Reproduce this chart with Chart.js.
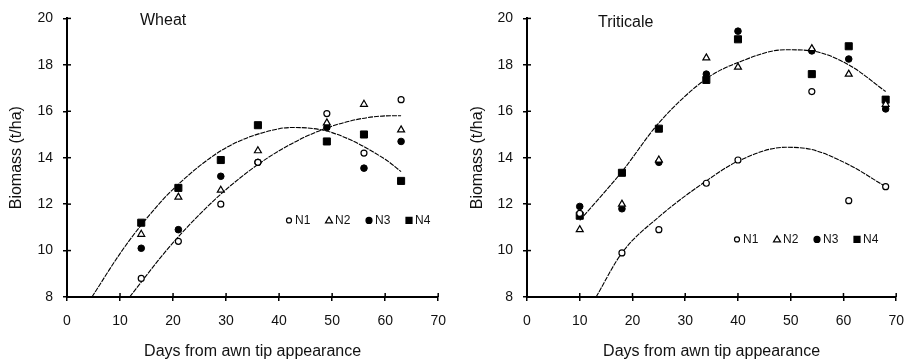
<!DOCTYPE html>
<html>
<head>
<meta charset="utf-8">
<script src="https://cdn.jsdelivr.net/npm/chart.js@4.4.0/dist/chart.umd.min.js"></script>
<style>
  body { margin: 0; background: #fff; }
  .panel { position: absolute; top: 0; width: 458px; height: 364px; }
  .ptitle { position: absolute; font: 16px "Liberation Sans", Arial, sans-serif; color: #111; line-height: 18px; }
</style>
</head>
<body>
<div class="panel" style="left:0"><canvas id="wheat"></canvas></div>
<div class="panel" style="left:458px"><canvas id="triticale"></canvas></div>
<div class="ptitle" style="left:140px; top:11px">Wheat</div>
<div class="ptitle" style="left:598px; top:13px">Triticale</div>
<script>
// Wheat - biomass (t/ha) by days from awn tip appearance
const wheatDays = [14, 21, 29, 36, 49, 56, 63];
const wheatN1 = [8.8, 10.4, 12.0, 13.8, 15.9, 14.2, 16.5];
const wheatN2 = [10.7, 12.3, 12.6, 14.3, 15.5, 16.3, 15.2];
const wheatN3 = [10.1, 10.9, 13.2, 13.8, 15.3, 13.55, 14.7];
const wheatN4 = [11.2, 12.7, 13.9, 15.4, 14.7, 15.0, 13.0];

// fitted curves
const wheatFitAX = [4.7, 10, 14, 20, 30, 40, 43, 50, 60, 63];
const wheatFitAY = [8.0, 9.87, 11.1, 12.64, 14.43, 15.25, 15.3, 15.08, 13.93, 13.4];
const wheatFitBX = [11.8, 20, 30, 40, 50, 60, 63];
const wheatFitBY = [8.0, 10.34, 12.63, 14.3, 15.36, 15.8, 15.81];

// Triticale
const tritDays = [10, 18, 25, 34, 40, 54, 61, 68];
const tritN1 = [11.6, 9.9, 10.9, 12.9, 13.9, 16.85, 12.15, 12.75];
const tritN2 = [10.9, 12.0, 13.9, 18.3, 17.9, 18.7, 17.6, 16.3];
const tritN3 = [11.9, 11.8, 13.8, 17.6, 19.45, 18.6, 18.25, 16.1];
const tritN4 = [11.5, 13.35, 15.25, 17.35, 19.1, 17.6, 18.8, 16.5];

const tritFitAX = [10, 18, 25, 34, 40, 49, 54, 61, 68];
const tritFitAY = [11.3, 13.4, 15.5, 17.4, 18.1, 18.65, 18.6, 18.0, 16.85];
const tritFitBX = [13.1, 18, 25, 34, 40, 49, 54, 61, 68];
const tritFitBY = [8.0, 9.9, 11.45, 13.0, 13.85, 14.45, 14.35, 13.7, 12.75];

const xTicks = [0, 10, 20, 30, 40, 50, 60, 70];
const yTicks = [8, 10, 12, 14, 16, 18, 20];
const seriesNames = ['N1', 'N2', 'N3', 'N4'];

const FONT = '"Liberation Sans", Arial, sans-serif';

function pts(xs, ys) {
    return xs.map((x, i) => ({ x: x, y: ys[i] }));
}

// marker look per treatment
const markers = [
    { pointStyle: 'circle', pointRadius: 3, backgroundColor: '#fff', borderColor: '#000', borderWidth: 1.2 },
    { pointStyle: 'triangle', pointRadius: 4, backgroundColor: '#fff', borderColor: '#000', borderWidth: 1.2 },
    { pointStyle: 'circle', pointRadius: 3.3, backgroundColor: '#000', borderColor: '#000', borderWidth: 1 },
    { pointStyle: 'rect', pointRadius: 5, backgroundColor: '#000', borderColor: '#000', borderWidth: 1 }
];

function drawMarker(ctx, kind, x, y) {
    ctx.beginPath();
    if (kind === 0 || kind === 2) {
        ctx.arc(x, y, kind === 0 ? 2.5 : 3, 0, Math.PI * 2);
    } else if (kind === 1) {
        ctx.moveTo(x, y - 3.5);
        ctx.lineTo(x + 3.5, y + 2.5);
        ctx.lineTo(x - 3.5, y + 2.5);
        ctx.closePath();
    } else {
        ctx.rect(x - 3, y - 3, 6, 6);
    }
    ctx.fillStyle = (kind >= 2) ? '#000' : '#fff';
    ctx.fill();
    ctx.lineWidth = 1.2;
    ctx.strokeStyle = '#000';
    ctx.stroke();
}

// ticks that cross the axis line (inner half)
const crossTicks = {
    id: 'crossTicks',
    afterDraw(chart) {
        const { ctx, chartArea, scales: { x, y } } = chart;
        ctx.save();
        ctx.strokeStyle = '#000';
        ctx.lineWidth = 1.5;
        x.ticks.forEach(t => {
            const px = x.getPixelForValue(t.value);
            ctx.beginPath();
            ctx.moveTo(px, chartArea.bottom);
            ctx.lineTo(px, chartArea.bottom - 4);
            ctx.stroke();
        });
        y.ticks.forEach(t => {
            const py = y.getPixelForValue(t.value);
            ctx.beginPath();
            ctx.moveTo(chartArea.left, py);
            ctx.lineTo(chartArea.left + 4, py);
            ctx.stroke();
        });
        ctx.restore();
    }
};

// small in-plot legend
const innerLegend = {
    id: 'innerLegend',
    afterDraw(chart, args, opts) {
        const { ctx, chartArea } = chart;
        ctx.save();
        ctx.font = '12px ' + FONT;
        ctx.textBaseline = 'middle';
        let x = chartArea.left + opts.dx;
        const y = chartArea.top + opts.dy;
        seriesNames.forEach((name, i) => {
            drawMarker(ctx, i, x, y);
            ctx.fillStyle = '#111';
            ctx.fillText(name, x + 6, y);
            x += 40;
        });
        ctx.restore();
    }
};

function makeChart(id, days, series, fitA, fitB, yAxisWidth, padRight, titlePad, legendPos) {
    const datasets = series.map((vals, i) => Object.assign({
        label: seriesNames[i],
        data: pts(days, vals),
        showLine: false
    }, markers[i]));
    [fitA, fitB].forEach(fit => {
        datasets.push({
            label: '',
            data: pts(fit[0], fit[1]),
            showLine: true,
            pointRadius: 0,
            borderColor: '#000',
            borderWidth: 1.1,
            borderDash: [5, 1],
            cubicInterpolationMode: 'monotone',
            fill: false
        });
    });

    return new Chart(document.getElementById(id), {
        type: 'scatter',
        data: { datasets: datasets },
        options: {
            responsive: true,
            maintainAspectRatio: false,
            animation: false,
            layout: { padding: { left: 0, top: 17, right: padRight, bottom: 0 } },
            plugins: {
                legend: { display: false },
                tooltip: { enabled: false },
                innerLegend: legendPos
            },
            scales: {
                x: {
                    type: 'linear',
                    min: 0,
                    max: 70,
                    afterBuildTicks: s => { s.ticks = xTicks.map(v => ({ value: v })); },
                    afterFit: s => { s.height = 67; },
                    grid: { drawOnChartArea: false, drawTicks: true, tickLength: 4, color: '#000', lineWidth: 1.5 },
                    border: { display: true, color: '#000', width: 2 },
                    ticks: { color: '#111', padding: 12, maxRotation: 0, font: { family: FONT, size: 14 } },
                    title: {
                        display: true,
                        text: 'Days from awn tip appearance',
                        color: '#111',
                        padding: { top: 0, bottom: 3 },
                        font: { family: FONT, size: 16 }
                    }
                },
                y: {
                    type: 'linear',
                    min: 8,
                    max: 20,
                    afterBuildTicks: s => { s.ticks = yTicks.map(v => ({ value: v })); },
                    afterFit: s => { s.width = yAxisWidth; },
                    grid: { drawOnChartArea: false, drawTicks: true, tickLength: 4, color: '#000', lineWidth: 1.5 },
                    border: { display: true, color: '#000', width: 2 },
                    ticks: { color: '#111', padding: 10, font: { family: FONT, size: 14 } },
                    title: {
                        display: true,
                        text: 'Biomass (t/ha)',
                        color: '#111',
                        padding: { top: titlePad, bottom: 0 },
                        font: { family: FONT, size: 16 }
                    }
                }
            }
        },
        plugins: [crossTicks, innerLegend]
    });
}

makeChart('wheat', wheatDays, [wheatN1, wheatN2, wheatN3, wheatN4],
    [wheatFitAX, wheatFitAY], [wheatFitBX, wheatFitBY], 67, 12, 7, { dx: 222, dy: 202 });

makeChart('triticale', tritDays, [tritN1, tritN2, tritN3, tritN4],
    [tritFitAX, tritFitAY], [tritFitBX, tritFitBY], 69, 9, 10, { dx: 210, dy: 221 });
</script>
</body>
</html>
